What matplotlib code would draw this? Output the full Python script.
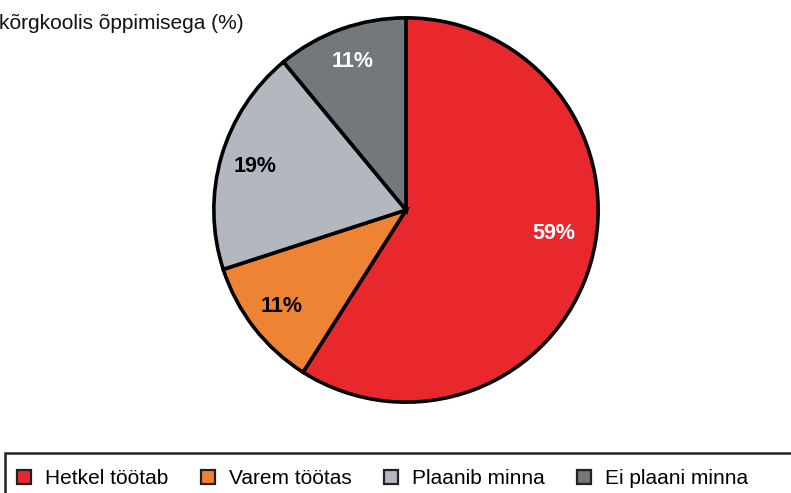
import matplotlib.pyplot as plt
from matplotlib.lines import Line2D
from matplotlib.patches import Rectangle

plt.rcParams['font.family'] = ['Liberation Sans', 'DejaVu Sans']

labels = ['Hetkel töötab', 'Varem töötas', 'Plaanib minna', 'Ei plaani minna']
values = [59, 11, 19, 11]
colors = ['#E8282D', '#EE8333', '#B3B8C0', '#73787C']
text_colors = ['white', 'black', 'black', 'white']
title = 'kõrgkoolis õppimisega (%)'

W, H = 791, 493
fig = plt.figure(figsize=(W / 100, H / 100), dpi=100)

# pie centre (406, 210) px, radius 196 px
cx, cy, r = 406, 210, 196
ax = fig.add_axes([(cx - r) / W, (H - cy - r) / H, 2 * r / W, 2 * r / H])

wedges, texts, autotexts = ax.pie(
    values, colors=colors, startangle=90, counterclock=False,
    autopct=lambda p: f'{p:.0f}%', pctdistance=0.82,
    wedgeprops=dict(edgecolor='black', linewidth=2.6),
    textprops=dict(fontsize=15.5, fontweight='bold'))
for t, c in zip(autotexts, text_colors):
    t.set_color(c)
autotexts[0].set_position((0.77, -0.12))
ax.set_xlim(-1.02, 1.02)
ax.set_ylim(-1.02, 1.02)
ax.set_aspect('equal')

fig.text(-0.001, 1 - 29 / H, title, fontsize=15, color='#111111', va='baseline', ha='left')

# legend box (runs off the right and bottom edge)
fig.patches.append(Rectangle((5 / W, -0.05), 1.0, (H - 453) / H + 0.05,
                             transform=fig.transFigure, fill=False,
                             edgecolor='#222222', linewidth=1.8))
handles = [Line2D([], [], marker='s', linestyle='none', markersize=10,
                  markerfacecolor=c, markeredgecolor='#222222', markeredgewidth=1.6)
           for c in colors]
fig.legend(handles, labels, loc='center left', bbox_to_anchor=(14 / W, 1 - 479 / H),
           ncol=4, frameon=False, fontsize=15, handlelength=1.0, handletextpad=0.5,
           columnspacing=1.4, borderaxespad=0, borderpad=0)

plt.savefig('out.png', dpi=100)
